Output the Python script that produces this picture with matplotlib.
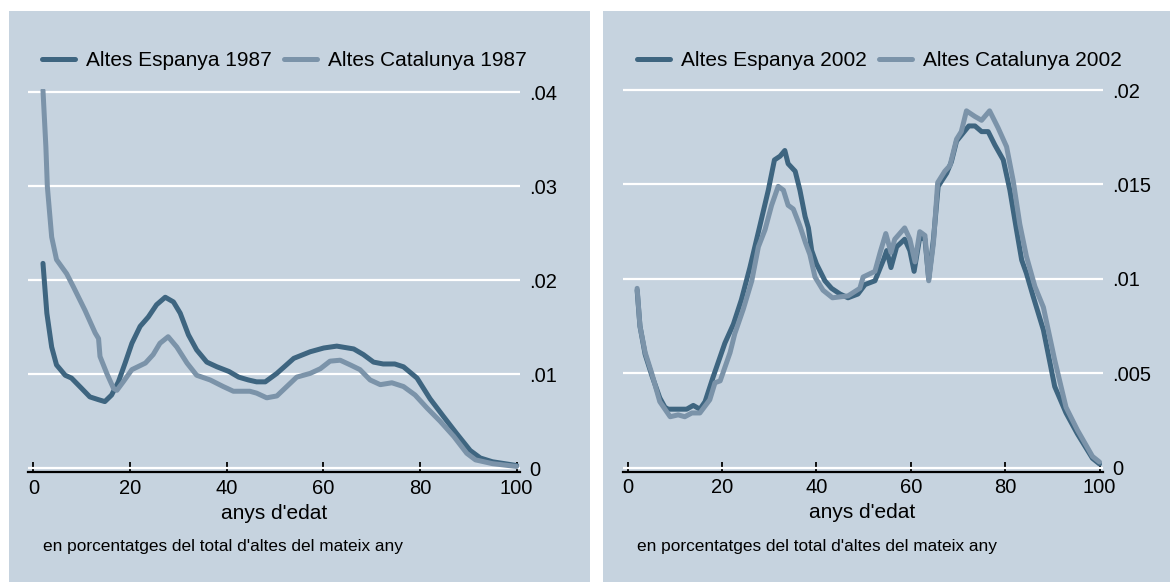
import matplotlib.pyplot as plt
from matplotlib.patches import Rectangle

plt.rcParams['font.family'] = ['Liberation Sans', 'DejaVu Sans']
plt.rcParams['lines.solid_capstyle'] = 'round'
plt.rcParams['lines.solid_joinstyle'] = 'round'

# Altes 1987 (proporció per edat)
edat_esp87 = [2, 2.8, 3.8, 4.8, 6.6, 7.9, 10, 11.7, 13.5, 14.8, 16.2, 17.6, 19, 20.4,
              22.1, 23.8, 25.5, 27.3, 29, 30.4, 32.1, 33.8, 35.9, 38, 40.5, 42.5, 44.5,
              46.2, 48, 50.4, 53.9, 57.3, 60.1, 62.8, 66.3, 68.3, 70.4, 72.4, 74.8, 76.6,
              79.4, 82.1, 84.9, 87.6, 90.4, 92.5, 95, 97.5, 100]
esp87 = [0.0218, 0.0165, 0.0129, 0.0110, 0.0099, 0.0096, 0.0085, 0.0076, 0.0073, 0.0071,
         0.0078, 0.0092, 0.0112, 0.0133, 0.0151, 0.0161, 0.0174, 0.0182, 0.0177, 0.0165,
         0.0142, 0.0126, 0.0113, 0.0108, 0.0103, 0.0097, 0.0094, 0.0092, 0.0092, 0.0101,
         0.0117, 0.0124, 0.0128, 0.0130, 0.0127, 0.0121, 0.0113, 0.0111, 0.0111, 0.0108,
         0.0096, 0.0074, 0.0055, 0.0037, 0.0019, 0.0011, 0.0007, 0.0005, 0.0003]

edat_cat87 = [2, 2.6, 2.9, 3.8, 4.8, 6.9, 8.3, 10.7, 12.8, 13.5, 13.8, 15.2, 16.6, 17.3,
              18.6, 20.4, 23.2, 24.8, 26.2, 27.9, 29.7, 31.8, 33.8, 36.6, 39.3, 41.4,
              44.8, 46.2, 48.3, 50.4, 54.5, 57.3, 59.4, 61.4, 63.5, 65.6, 67.6, 69.7,
              71.8, 74.2, 76.6, 79, 81.5, 84.2, 87, 89.7, 91.5, 95, 100]
cat87 = [0.0402, 0.0342, 0.0300, 0.0246, 0.0222, 0.0207, 0.0193, 0.0168, 0.0144, 0.0138,
         0.0119, 0.0101, 0.0085, 0.0083, 0.0092, 0.0105, 0.0112, 0.0121, 0.0133, 0.0140,
         0.0129, 0.0112, 0.0099, 0.0094, 0.0087, 0.0082, 0.0082, 0.0080, 0.0075, 0.0077,
         0.0097, 0.0101, 0.0106, 0.0114, 0.0115, 0.0110, 0.0105, 0.0094, 0.0089, 0.0091,
         0.0087, 0.0078, 0.0064, 0.0050, 0.0034, 0.0016, 0.0009, 0.0005, 0.0002]

# Altes 2002
edat_esp02 = [2, 2.6, 3.7, 5.1, 6.8, 7.9, 8.6, 10.7, 12.5, 13.9, 15.3, 16.4, 18.1, 20.6,
              22.4, 24.1, 25.9, 28, 29.8, 31.1, 32.3, 33.3, 34, 35.5, 36.5, 37.6, 38.3,
              39, 40, 41.8, 43.2, 45, 46.7, 48.8, 50.3, 52.4, 54.2, 54.9, 55.8, 57, 58.7,
              59.8, 60.7, 61.9, 63, 63.8, 64.8, 65.8, 67.6, 68.6, 69.7, 71, 72.3, 73.6,
              75, 76.4, 77.8, 79.6, 81, 82.4, 83.5, 84.5, 85.9, 88.1, 90.5, 92.9, 95.3,
              98.5, 100]
esp02 = [0.0094, 0.0075, 0.0060, 0.0049, 0.0037, 0.0032, 0.0031, 0.0031, 0.0031, 0.0033,
         0.0031, 0.0035, 0.0048, 0.0066, 0.0076, 0.0089, 0.0106, 0.0128, 0.0147, 0.0163,
         0.0165, 0.0168, 0.0161, 0.0157, 0.0147, 0.0133, 0.0127, 0.0115, 0.0108, 0.0099,
         0.0095, 0.0092, 0.0090, 0.0092, 0.0097, 0.0099, 0.0110, 0.0115, 0.0106, 0.0117,
         0.0121, 0.0115, 0.0104, 0.0122, 0.0121, 0.0100, 0.0121, 0.0149, 0.0156, 0.0162,
         0.0173, 0.0177, 0.0181, 0.0181, 0.0178, 0.0178, 0.0171, 0.0163, 0.0147, 0.0126,
         0.0110, 0.0103, 0.0091, 0.0073, 0.0043, 0.0029, 0.0018, 0.0005, 0.0002]

edat_cat02 = [2, 2.6, 3.7, 5.1, 6.8, 7.9, 9, 10.7, 12.1, 13.6, 15.3, 17.4, 18.5, 19.6,
              21.7, 22.7, 24.5, 26.3, 27.7, 29.1, 30.5, 31.9, 33, 34, 35.1, 36.5, 37.7,
              38.6, 39.7, 41.4, 43.4, 46.7, 49.2, 49.9, 52.4, 53.5, 54.7, 55.8, 56.6,
              58.7, 59.8, 60.9, 61.9, 63, 63.8, 64.8, 65.7, 67.2, 68.3, 69.7, 70.7, 71.8,
              73.6, 75, 76.7, 78.5, 80.3, 81.7, 83.1, 84.5, 86.3, 88.1, 90.5, 92.9, 95.3,
              98.5, 100]
cat02 = [0.0095, 0.0075, 0.0061, 0.0050, 0.0035, 0.0031, 0.0027, 0.0028, 0.0027, 0.0029,
         0.0029, 0.0036, 0.0045, 0.0046, 0.0061, 0.0071, 0.0084, 0.0099, 0.0117, 0.0126,
         0.0139, 0.0149, 0.0147, 0.0139, 0.0137, 0.0128, 0.0119, 0.0113, 0.0101, 0.0094,
         0.0090, 0.0091, 0.0095, 0.0101, 0.0104, 0.0114, 0.0124, 0.0114, 0.0121, 0.0127,
         0.0121, 0.0109, 0.0125, 0.0123, 0.0099, 0.0119, 0.0151, 0.0157, 0.0160, 0.0174,
         0.0178, 0.0189, 0.0186, 0.0184, 0.0189, 0.0180, 0.0170, 0.0152, 0.0129, 0.0112,
         0.0096, 0.0085, 0.0057, 0.0032, 0.0020, 0.0006, 0.0003]

yticks87 = [0, 0.01, 0.02, 0.03, 0.04]
ylabels87 = ['0', '.01', '.02', '.03', '.04']
yticks02 = [0, 0.005, 0.01, 0.015, 0.02]
ylabels02 = ['0', '.005', '.01', '.015', '.02']

fons = '#c6d3df'
fosc = '#3e6580'
clar = '#7b93a9'

W, H = 1170, 583
fig = plt.figure(figsize=(W / 100, H / 100), dpi=100)
fig.patches.append(Rectangle((9 / W, 1.5 / H), 580.5 / W, 570.5 / H, transform=fig.transFigure,
                             facecolor=fons, edgecolor='none', zorder=-1))
fig.patches.append(Rectangle((603 / W, 1.5 / H), 567 / W, 570.5 / H, transform=fig.transFigure,
                             facecolor=fons, edgecolor='none', zorder=-1))

ax1 = fig.add_axes([28 / W, (H - 472.1) / H, 491.7 / W, 383.6 / H])
ax2 = fig.add_axes([622.5 / W, (H - 471.5) / H, 480.1 / W, 385.2 / H])

panells = [
    (ax1, edat_esp87, esp87, edat_cat87, cat87, '1987', yticks87, ylabels87, (-0.0004, 0.0404), 42, 43),
    (ax2, edat_esp02, esp02, edat_cat02, cat02, '2002', yticks02, ylabels02, (-0.0002, 0.0202), 637, 637),
]

for ax, xe, ye, xc, yc, any_, yt, yl, ylim, xleg, xnota in panells:
    ax.set_facecolor('none')
    ax.plot(xe, ye, color=fosc, lw=3.6, label='Altes Espanya ' + any_, zorder=3)
    ax.plot(xc, yc, color=clar, lw=3.6, label='Altes Catalunya ' + any_, zorder=4)
    ax.set_xlim(-1.1, 100.65)
    ax.set_ylim(*ylim)
    ax.set_yticks(yt)
    ax.set_yticklabels(yl)
    ax.yaxis.tick_right()
    ax.tick_params(axis='y', length=0, pad=7, labelsize=14.5)
    ax.set_xticks([0, 20, 40, 60, 80, 100])
    ax.tick_params(axis='x', direction='in', length=7, width=1.3, pad=5, labelsize=14.5)
    ax.grid(axis='y', color='white', lw=1.6)
    ax.set_axisbelow(True)
    for s in ['top', 'left', 'right']:
        ax.spines[s].set_visible(False)
    ax.spines['bottom'].set_linewidth(1.6)
    ax.set_xlabel("anys d'edat", fontsize=15, labelpad=4)
    ax.legend(ncol=2, loc='center left', bbox_to_anchor=(xleg / W, 1 - 61 / H),
              bbox_transform=fig.transFigure, frameon=False, fontsize=15,
              handlelength=1.6, handletextpad=0.5, columnspacing=0.6,
              borderaxespad=0, borderpad=0)
    fig.text(xnota / W, 1 - 546 / H, "en porcentatges del total d'altes del mateix any",
             fontsize=12.4, va='center', ha='left')

fig.savefig('out.png', dpi=100)
